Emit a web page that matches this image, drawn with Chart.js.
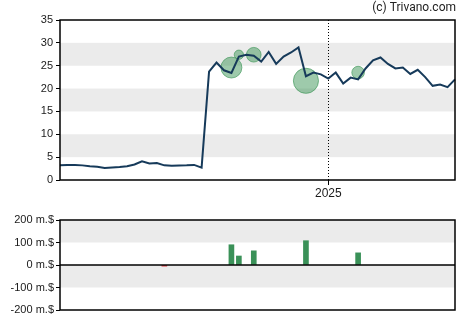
<!DOCTYPE html>
<html>
<head>
<meta charset="utf-8">
<script src="https://cdn.jsdelivr.net/npm/chart.js@4/dist/chart.umd.min.js"></script>
<style>
  body { margin: 0; background: #fff; }
  .box { position: absolute; left: 0; width: 470px; }
  #priceBox { top: 0; height: 200px; }
  #tradeBox { top: 200px; height: 125px; }
</style>
</head>
<body>
<div class="box" id="priceBox"><canvas id="priceChart"></canvas></div>
<div class="box" id="tradeBox"><canvas id="tradeChart"></canvas></div>
<script>
"use strict";
// weekly closes
const weeks = [
    '2024-04-26', '2024-05-03', '2024-05-10', '2024-05-17', '2024-05-24', '2024-05-31',
    '2024-06-07', '2024-06-14', '2024-06-21', '2024-06-28', '2024-07-05', '2024-07-12',
    '2024-07-19', '2024-07-26', '2024-08-02', '2024-08-09', '2024-08-16', '2024-08-23',
    '2024-08-30', '2024-09-06', '2024-09-13', '2024-09-20', '2024-09-27', '2024-10-04',
    '2024-10-11', '2024-10-18', '2024-10-25', '2024-11-01', '2024-11-08', '2024-11-15',
    '2024-11-22', '2024-11-29', '2024-12-06', '2024-12-13', '2024-12-20', '2024-12-27',
    '2025-01-03', '2025-01-10', '2025-01-17', '2025-01-24', '2025-01-31', '2025-02-07',
    '2025-02-14', '2025-02-21', '2025-02-28', '2025-03-07', '2025-03-14', '2025-03-21',
    '2025-03-28', '2025-04-04', '2025-04-11', '2025-04-18', '2025-04-25', '2025-05-02'
];
const closePrices = [
    3.2, 3.3, 3.3, 3.2, 3.0, 2.9, 2.65, 2.75, 2.85, 3.0, 3.4, 4.1,
    3.6, 3.7, 3.2, 3.1, 3.15, 3.2, 3.3, 2.7, 23.7, 25.7, 24.0, 23.4,
    27.0, 27.4, 27.2, 25.9, 28.0, 25.4, 27.0, 27.9, 29.0, 22.7, 23.5, 23.1,
    22.2, 23.5, 21.1, 22.4, 22.0, 24.4, 26.2, 26.8, 25.4, 24.4, 24.6, 23.2,
    24.1, 22.5, 20.6, 20.9, 20.3, 22.0
];
// insider trades
const tradeWeeks = ['2024-08-02', '2024-10-04', '2024-10-11', '2024-10-25', '2024-12-13', '2025-01-31'];
const tradeAmounts = [-5, 90, 40, 63, 108, 54];   // m.$
const tradePrices = [3.2, 24.6, 27.4, 27.4, 21.7, 23.5];

const tickFont = { family: '"Liberation Sans", Arial, sans-serif', size: 11 };
const textColor = '#1a1a1a';

const framePlugin = {
    id: 'frame',
    beforeDatasetsDraw(chart, args, opts) {
        let { ctx, chartArea: a, scales } = chart;
        let y = scales.y;
        ctx.save();
        ctx.fillStyle = '#ebebeb';
        (opts.bands || []).forEach(([lo, hi]) => {
            let y1 = y.getPixelForValue(hi);
            let y2 = y.getPixelForValue(lo);
            ctx.fillRect(a.left, y1, a.right - a.left, y2 - y1);
        });
        if (opts.yearLine) {
            ctx.strokeStyle = '#000';
            ctx.lineWidth = 1;
            ctx.setLineDash([1, 2]);
            scales.x.ticks.forEach(t => {
                let px = Math.round(scales.x.getPixelForValue(t.value)) + 0.5;
                ctx.beginPath();
                ctx.moveTo(px, a.top);
                ctx.lineTo(px, a.bottom);
                ctx.stroke();
            });
        }
        ctx.restore();
    },
    afterDatasetsDraw(chart, args, opts) {
        let { ctx, chartArea: a, scales } = chart;
        ctx.save();
        ctx.strokeStyle = '#000';
        ctx.lineWidth = 1.5;
        if (opts.zeroLine) {
            let py = scales.y.getPixelForValue(0);
            ctx.beginPath();
            ctx.moveTo(a.left, py);
            ctx.lineTo(a.right, py);
            ctx.stroke();
        }
        ctx.strokeRect(a.left, a.top, a.right - a.left, a.bottom - a.top);
        ctx.restore();
    },
    afterDraw(chart, args, opts) {
        if (!opts.credit) return;
        let ctx = chart.ctx;
        ctx.save();
        ctx.font = '12px Roboto, sans-serif';
        ctx.fillStyle = '#222';
        ctx.textAlign = 'right';
        ctx.textBaseline = 'middle';
        ctx.fillText(opts.credit, chart.chartArea.right + 1, 8);
        ctx.restore();
    }
};

function yearTicks(scale) {
    scale.ticks = scale.ticks.filter(t => t.value > 0 &&
        weeks[t.value].slice(0, 4) !== weeks[t.value - 1].slice(0, 4));
}

let priceCtx = document.getElementById('priceChart').getContext('2d');
new Chart(priceCtx, {
    type: 'line',
    data: {
        labels: weeks,
        datasets: [
            {
                data: closePrices,
                borderColor: '#163a5a',
                borderWidth: 2,
                pointRadius: 0,
                tension: 0,
                order: 0
            },
            {
                type: 'bubble',
                data: tradeWeeks.map((w, k) => ({ x: w, y: tradePrices[k], r: tradeAmounts[k] / 8.6 }))
                    .filter(p => p.r > 0),
                backgroundColor: 'rgba(62, 150, 88, 0.5)',
                borderColor: 'rgba(62, 150, 88, 0.65)',
                borderWidth: 1,
                order: 1
            }
        ]
    },
    options: {
        responsive: true,
        maintainAspectRatio: false,
        animation: false,
        layout: { padding: { left: 0, right: 15, top: 20, bottom: 0 } },
        plugins: {
            legend: { display: false },
            tooltip: { enabled: false },
            frame: { bands: [[25, 30], [15, 20], [5, 10]], yearLine: true, credit: '(c) Trivano.com' }
        },
        scales: {
            x: {
                offset: false,
                afterBuildTicks: yearTicks,
                afterFit: s => { s.height = 20; },
                grid: { drawOnChartArea: false, drawTicks: true, tickLength: 5, color: '#000' },
                border: { display: false },
                ticks: {
                    autoSkip: false, maxRotation: 0, padding: 1,
                    color: textColor,
                    font: { family: tickFont.family, size: 12 },
                    callback: v => weeks[v].slice(0, 4)
                }
            },
            y: {
                min: 0, max: 35,
                afterFit: s => { s.width = 60; },
                grid: { drawOnChartArea: false, drawTicks: true, tickLength: 4, color: '#000' },
                border: { display: false },
                ticks: { stepSize: 5, padding: 3, color: textColor, font: tickFont }
            }
        }
    },
    plugins: [framePlugin]
});

let tradeCtx = document.getElementById('tradeChart').getContext('2d');
let tradeBars = weeks.map(w => {
    let k = tradeWeeks.indexOf(w);
    return k < 0 ? null : tradeAmounts[k];
});
new Chart(tradeCtx, {
    type: 'bar',
    data: {
        labels: weeks,
        datasets: [
            {
                data: tradeBars,
                backgroundColor: tradeBars.map(v => v < 0 ? '#e3262e' : '#3a9158'),
                barThickness: 5
            }
        ]
    },
    options: {
        responsive: true,
        maintainAspectRatio: false,
        animation: false,
        layout: { padding: { left: 0, right: 15, top: 20, bottom: 15 } },
        plugins: {
            legend: { display: false },
            tooltip: { enabled: false },
            frame: { bands: [[100, 200], [-100, 0]], zeroLine: true }
        },
        scales: {
            x: {
                display: false,
                offset: false
            },
            y: {
                min: -200, max: 200,
                afterFit: s => { s.width = 60; },
                grid: { drawOnChartArea: false, drawTicks: true, tickLength: 4, color: '#000' },
                border: { display: false },
                ticks: {
                    stepSize: 100, padding: 2, color: textColor, font: tickFont,
                    callback: v => v + ' m.$'
                }
            }
        }
    },
    plugins: [framePlugin]
});
</script>
</body>
</html>
